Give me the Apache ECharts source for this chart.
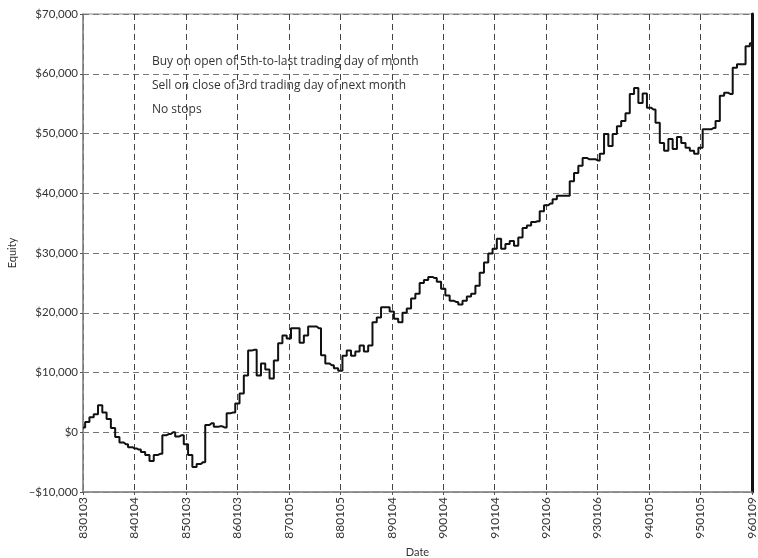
<!DOCTYPE html>
<html>
<head>
<meta charset="utf-8">
<script src="https://cdn.jsdelivr.net/npm/echarts@6/dist/echarts.min.js"></script>
<style>
html,body{margin:0;padding:0;background:#fff;}
#chart{width:758px;height:558px;}
</style>
</head>
<body>
<div id="chart"></div>
<script>
// Year-start tick labels (one every 12 months)
const tickLabels = ['830103','840104','850103','860103','870105','880105','890104','900104','910104','920106','930106','940105','950105','960109'];
const yTickLabels = ['\u2013$10,000','$0','$10,000','$20,000','$30,000','$40,000','$50,000','$60,000','$70,000'];
const notes = ['Buy on open of 5th-to-last trading day of month','Sell on close of 3rd trading day of next month','No stops'];

// Monthly equity
const eq1983 = [800, 1700, 2500, 3000, 4500, 3300, 2200, 700, -800, -1700, -2000, -2500];
const eq1984 = [-2700, -2900, -3300, -3800, -4800, -3800, -3600, -500, -300, 0, -700, -500];
const eq1985 = [-2000, -3800, -5800, -5300, -5000, 1200, 1500, 900, 1000, 800, 3200, 3300];
const eq1986 = [4800, 6500, 9500, 13700, 13800, 9500, 11500, 10500, 9000, 12000, 14900, 16200];
const eq1987 = [15700, 17400, 17400, 15000, 16200, 17700, 17700, 17400, 12900, 11500, 11200, 10700];
const eq1988 = [10300, 12800, 13700, 12800, 13500, 14500, 13500, 14500, 18400, 19200, 20900, 20900];
const eq1989 = [20200, 19000, 18400, 20000, 20700, 22400, 23200, 25000, 25500, 26000, 25800, 25200];
const eq1990 = [24000, 22900, 22000, 21800, 21400, 22000, 22700, 23200, 24500, 26700, 28400, 29900];
const eq1991 = [30700, 32400, 30700, 31500, 32000, 31200, 32600, 34200, 34600, 35200, 35300, 37000];
const eq1992 = [38000, 38300, 39000, 39600, 39600, 39600, 42000, 43400, 44600, 45900, 45700, 45700];
const eq1993 = [45500, 46600, 49900, 47900, 49900, 51200, 52100, 53400, 56600, 57600, 55100, 56700];
const eq1994 = [54300, 54000, 51800, 48400, 47100, 49100, 47400, 49400, 48400, 47600, 47100, 46600];
const eq1995 = [47600, 50700, 50700, 50900, 52100, 56300, 56800, 56600, 61000, 61600, 61600, 64600];
const eq1996 = [65100];

const equity = [].concat(eq1983, eq1984, eq1985, eq1986, eq1987, eq1988, eq1989, eq1990,
  eq1991, eq1992, eq1993, eq1994, eq1995, eq1996);

// Category per month; year-start months carry the tick label
const categories = equity.map((v, i) => {
  if (i % 12 === 0) return tickLabels[i / 12];
  const yy = 83 + Math.floor(i / 12);
  const mm = (i % 12) + 1;
  return String(yy) + (mm < 10 ? '0' : '') + mm;
});

const FONT = 'Lato';
const chart = echarts.init(document.getElementById('chart'), null, {renderer: 'canvas'});
chart.setOption({
  animation: false,
  backgroundColor: '#fff',
  textStyle: {fontFamily: FONT},
  grid: {left: 83, right: 6, top: 14, bottom: 66, containLabel: false, outerBoundsMode: 'none',
         show: true, borderColor: '#888', borderWidth: 1},
  xAxis: {
    type: 'category',
    data: categories,
    boundaryGap: false,
    name: 'Date',
    nameLocation: 'middle',
    nameGap: 53,
    nameTextStyle: {fontSize: 11, color: '#333', fontFamily: FONT},
    axisLine: {onZero: false, lineStyle: {color: '#888', width: 1.5}},
    axisTick: {show: true, interval: 11, length: 3, inside: false, lineStyle: {color: '#555'}},
    axisLabel: {interval: 11, rotate: 90, fontSize: 12, color: '#333', margin: 5, fontFamily: FONT},
    splitLine: {show: true, interval: 11, lineStyle: {color: '#444', type: [6, 4], width: 1}}
  },
  yAxis: [{
    type: 'value',
    min: -10000,
    max: 70000,
    interval: 10000,
    name: 'Equity',
    nameLocation: 'middle',
    nameGap: 65,
    nameTextStyle: {fontSize: 11, color: '#333', fontFamily: FONT},
    axisLine: {show: true, lineStyle: {color: '#888', width: 1.5}},
    axisTick: {show: true, length: 3, lineStyle: {color: '#555'}},
    axisLabel: {
      fontSize: 11.5, color: '#333', margin: 5, fontFamily: FONT,
      formatter: v => yTickLabels[Math.round((v + 10000) / 10000)]
    },
    splitLine: {show: true, lineStyle: {color: '#777', type: [6, 4], width: 1}}
  }, {
    type: 'value',
    position: 'right',
    min: -10000,
    max: 70000,
    interval: 10000,
    axisLine: {show: true, lineStyle: {color: '#111', width: 3}},
    axisTick: {show: false},
    axisLabel: {show: false},
    splitLine: {show: false}
  }],
  series: [{
    type: 'line',
    data: equity,
    step: 'middle',
    showSymbol: false,
    symbol: 'none',
    lineStyle: {color: '#111', width: 2},
    z: 5
  }],
  graphic: notes.map((t, k) => ({
    type: 'text',
    left: 152,
    top: 56 + k * 24,
    z: 10,
    style: {text: t, fill: '#333', font: '12px "Open Sans"'}
  }))
});
</script>
</body>
</html>
